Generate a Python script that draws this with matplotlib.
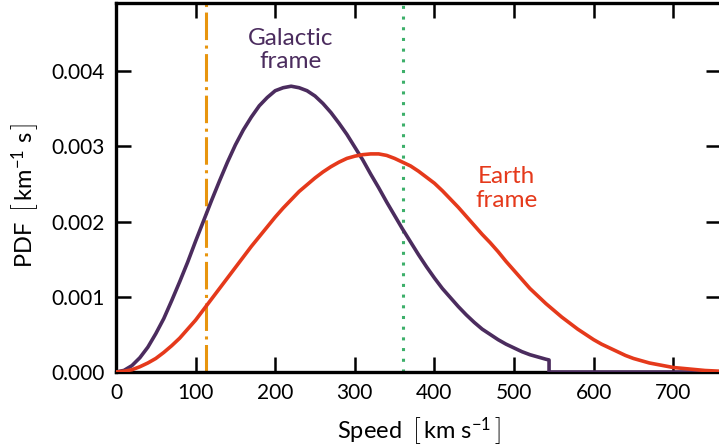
import matplotlib
matplotlib.use("Agg")
import matplotlib.pyplot as plt

plt.rcParams['font.family'] = ['Lato', 'DejaVu Sans']
plt.rcParams['mathtext.fontset'] = 'custom'
plt.rcParams['mathtext.rm'] = 'Lato'
plt.rcParams['mathtext.it'] = 'Lato:italic'
plt.rcParams['mathtext.bf'] = 'Lato:bold'

# Galactic frame PDF (truncated at escape speed), speed in km/s
galactic_speed = [0, 10, 20, 30, 40, 50, 60, 70, 80, 90, 100, 110, 120, 130, 140,
                  150, 160, 170, 180, 190, 200, 210, 220, 230, 240, 250, 260, 270,
                  280, 290, 300, 310, 320, 330, 340, 350, 360, 370, 380, 390, 400,
                  410, 420, 430, 440, 450, 460, 470, 480, 490, 500, 510, 520, 530,
                  540, 544, 544, 760]
galactic_pdf = [0.0, 0.000021, 0.000085, 0.00019, 0.00033, 0.00051, 0.00071,
                0.00095, 0.00120, 0.00146, 0.00174, 0.00201, 0.00228, 0.00254,
                0.00279, 0.00302, 0.00322, 0.00339, 0.00354, 0.00365, 0.00374,
                0.00378, 0.00380, 0.00378, 0.00374, 0.00367, 0.00357, 0.00345,
                0.00331, 0.00316, 0.00299, 0.00282, 0.00263, 0.00245, 0.00226,
                0.00208, 0.00190, 0.00173, 0.00156, 0.00140, 0.00125, 0.00111,
                0.00099, 0.00087, 0.00076, 0.00066, 0.00057, 0.00050, 0.00043,
                0.00037, 0.00032, 0.00027, 0.00023, 0.00020, 0.00017, 0.00016,
                0.0, 0.0]

# Earth frame PDF
earth_speed = [0, 10, 20, 30, 40, 50, 60, 70, 80, 90, 100, 110, 120, 130, 140, 150,
               160, 170, 180, 190, 200, 210, 220, 230, 240, 250, 260, 270, 280, 290,
               300, 310, 320, 330, 340, 350, 360, 370, 380, 390, 400, 410, 420, 430,
               440, 450, 460, 470, 480, 490, 500, 510, 520, 530, 540, 550, 560, 570,
               580, 590, 600, 610, 620, 630, 640, 650, 660, 670, 680, 690, 700, 710,
               720, 730, 740, 750, 760]
earth_pdf = [0.0, 0.00001, 0.00003, 0.00007, 0.00012, 0.00018, 0.00026, 0.00035,
             0.00045, 0.00057, 0.00069, 0.00083, 0.00097, 0.00111, 0.00125, 0.00139,
             0.00153, 0.00167, 0.00180, 0.00193, 0.00206, 0.00218, 0.00229, 0.00240,
             0.00249, 0.00258, 0.00266, 0.00273, 0.00279, 0.00284, 0.00287, 0.00289,
             0.00290, 0.00290, 0.00288, 0.00284, 0.00279, 0.00274, 0.00267, 0.00259,
             0.00251, 0.00241, 0.00230, 0.00219, 0.00207, 0.00195, 0.00183, 0.00172,
             0.00160, 0.00147, 0.00135, 0.00123, 0.00111, 0.00101, 0.00091, 0.00082,
             0.00073, 0.00065, 0.00057, 0.00050, 0.00043, 0.00037, 0.00032, 0.00027,
             0.00022, 0.00018, 0.00015, 0.00012, 0.00010, 0.00008, 0.00006, 0.00005,
             0.00004, 0.00003, 0.00002, 0.000015, 0.00001]

# Reference speeds
vline_orange = 113
vline_green = 361

x_ticks = [0, 100, 200, 300, 400, 500, 600, 700]
y_ticks = [0.000, 0.001, 0.002, 0.003, 0.004]
y_ticklabels = ['0.000', '0.001', '0.002', '0.003', '0.004']

purple = '#4b2c5e'
red = '#e5391b'
orange = '#e8950e'
green = '#3daf6a'

fig = plt.figure(figsize=(7.19, 4.48), dpi=100)
ax = fig.add_axes([116 / 719, (448 - 372) / 448, (721 - 116) / 719, 368.5 / 448])

ax.plot(galactic_speed, galactic_pdf, color=purple, lw=2.6, zorder=3)
ax.plot(earth_speed, earth_pdf, color=red, lw=2.6, zorder=3)
ax.axvline(vline_orange, color=orange, lw=2.2, linestyle=(0, (9, 1.8, 1, 1.8)), zorder=2)
ax.axvline(vline_green, color=green, lw=2.2, linestyle=(0, (1, 2.5)), zorder=2)

ax.text(219, 0.00428, 'Galactic\nframe', color=purple, fontsize=17.5,
        ha='center', va='center', linespacing=1.08)
ax.text(490, 0.00244, 'Earth\nframe', color=red, fontsize=17.5,
        ha='center', va='center', linespacing=1.15)

ax.set_xlim(0, 760)
ax.set_ylim(0, 0.0049)
ax.set_xticks(x_ticks)
ax.set_yticks(y_ticks)
ax.set_yticklabels(y_ticklabels)

ax.tick_params(axis='both', which='major', direction='in', length=11, width=1.8,
               top=True, right=True, labelsize=15, pad=8)
for s in ax.spines.values():
    s.set_linewidth(2.4)

ax.set_xlabel(r'Speed$\;\;\left[\,\mathrm{km\ s}^{-1}_{\ }\,\right]$', fontsize=17, labelpad=9)
ax.set_ylabel(r'PDF$\;\;\left[\,\mathrm{km}^{-1}_{\ }\ \mathrm{s}\,\right]$', fontsize=17)
ax.yaxis.set_label_coords(-0.124, 0.48)

fig.savefig('out.png', dpi=100)
